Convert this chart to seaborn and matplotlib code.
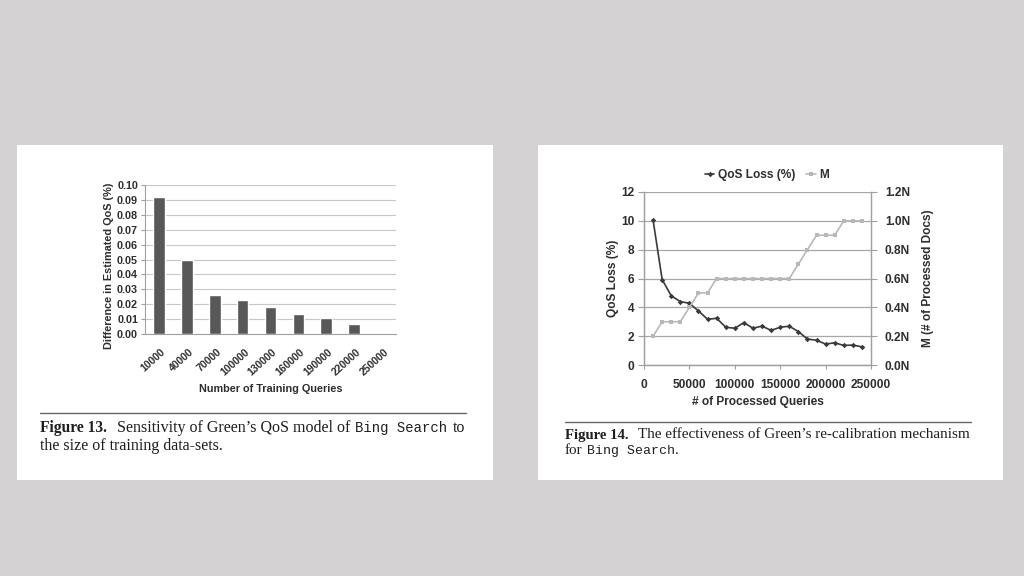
import matplotlib
matplotlib.use("Agg")
import matplotlib.pyplot as plt
import seaborn as sns
import pandas as pd
from matplotlib.patches import Rectangle
from matplotlib.lines import Line2D
from matplotlib.ticker import FuncFormatter, MultipleLocator
from matplotlib.transforms import ScaledTranslation

# ---------------- data ----------------
training_queries = ["10000", "40000", "70000", "100000", "130000",
                    "160000", "190000", "220000", "250000"]
qos_difference = [0.092, 0.050, 0.026, 0.023, 0.018, 0.0135, 0.0105, 0.007, 0.0]

processed_queries = [10000, 20000, 30000, 40000, 50000, 60000, 70000, 80000,
                     90000, 100000, 110000, 120000, 130000, 140000, 150000, 160000,
                     170000, 180000, 190000, 200000, 210000, 220000, 230000, 240000]
qos_loss = [10.05, 5.93, 4.8, 4.4, 4.28, 3.75, 3.17, 3.24,
            2.62, 2.55, 2.94, 2.55, 2.7, 2.4, 2.62, 2.69,
            2.32, 1.8, 1.72, 1.45, 1.54, 1.36, 1.38, 1.26]
m_docs = [0.2, 0.3, 0.3, 0.3, 0.4, 0.5, 0.5, 0.6,
          0.6, 0.6, 0.6, 0.6, 0.6, 0.6, 0.6, 0.6,
          0.7, 0.8, 0.9, 0.9, 0.9, 1.0, 1.0, 1.0]

caption13 = [("Figure 13.", "bold"), ("Sensitivity of Green\u2019s QoS model of", "serif"),
             ("Bing Search", "mono"), ("to", "serif")]
caption13_l2 = [("the size of training data-sets.", "serif")]
caption14 = [("Figure 14.", "bold"), ("The effectiveness of Green\u2019s re-calibration mechanism", "serif")]
caption14_l2 = [("for", "serif"), ("Bing Search", "mono"), (".", "serif_nogap")]

# ---------------- style ----------------
sns.set_theme(style="white")
plt.rcParams['font.family'] = ['Liberation Sans', 'DejaVu Sans']

W, H = 1024, 576
fig = plt.figure(figsize=(W / 100, H / 100), dpi=100, facecolor='#d4d2d3')


def rect(x0, y0, x1, y1):
    return [x0 / W, 1 - y1 / H, (x1 - x0) / W, (y1 - y0) / H]


for (x0, y0, x1, y1) in [(17, 145, 493, 480), (538, 145, 1003, 480)]:
    fig.patches.append(Rectangle((x0 / W, 1 - y1 / H), (x1 - x0) / W, (y1 - y0) / H,
                                 transform=fig.transFigure, facecolor='white',
                                 edgecolor='none', zorder=-5))

TXT = '#2e2e2e'
GRID = '#c8c8c8'
SPINE = '#a0a0a0'
FS1 = 7.8
FS2 = 8.6

# ---------------- Figure 13: bar chart ----------------
ax1 = fig.add_axes(rect(145, 185, 396, 334))
df = pd.DataFrame({"queries": training_queries, "diff": qos_difference})
sns.barplot(data=df, x="queries", y="diff", color='#585858', saturation=1,
            width=0.42, ax=ax1, zorder=3)
ax1.set_ylim(0, 0.10)
ax1.set_xlim(-0.5, len(training_queries) - 0.5)
ax1.yaxis.set_major_locator(MultipleLocator(0.01))
ax1.yaxis.set_major_formatter(FuncFormatter(lambda v, p: f"{v:.2f}"))
ax1.grid(axis='y', color=GRID, lw=0.8, zorder=0)
ax1.set_axisbelow(True)
for s in ['top', 'right']:
    ax1.spines[s].set_visible(False)
for s in ['left', 'bottom']:
    ax1.spines[s].set_color(SPINE)
    ax1.spines[s].set_linewidth(0.8)
ax1.tick_params(axis='y', left=True, length=3, width=0.8, color=SPINE, pad=2,
                labelsize=FS1, labelcolor=TXT)
ax1.tick_params(axis='x', bottom=False, pad=6, labelsize=FS1 - 0.3, labelcolor=TXT)
shift = ScaledTranslation(5 / 100, 0, fig.dpi_scale_trans)
for lab in ax1.get_yticklabels():
    lab.set_fontweight('bold')
for lab in ax1.get_xticklabels():
    lab.set_fontweight('bold')
    lab.set_rotation(42)
    lab.set_ha('right')
    lab.set_va('center')
    lab.set_rotation_mode('anchor')
    lab.set_transform(lab.get_transform() + shift)
ax1.set_xlabel("Number of Training Queries", fontsize=FS1, fontweight='bold', color=TXT, labelpad=5)
ax1.set_ylabel("Difference in Estimated QoS (%)", fontsize=FS1, fontweight='bold', color=TXT)
ax1.yaxis.set_label_coords(-0.124, 0.46)

# ---------------- Figure 14: dual-axis line chart ----------------
ax2 = fig.add_axes(rect(644, 192, 871, 365))
sns.lineplot(x=processed_queries, y=qos_loss, ax=ax2, color='#3a3a3a', lw=1.2,
             marker='D', markersize=2.8, markeredgewidth=0, zorder=4)
ax2.set_xlim(0, 250000)
ax2.set_ylim(0, 12)
ax2.xaxis.set_major_locator(MultipleLocator(50000))
ax2.yaxis.set_major_locator(MultipleLocator(2))
ax2.grid(axis='y', color='#a8a8a8', lw=0.9, zorder=0)
ax2.grid(axis='x', visible=False)
ax3 = ax2.twinx()
sns.lineplot(x=processed_queries, y=m_docs, ax=ax3, color='#b8b8b8', lw=1.2,
             marker='s', markersize=3.5, markeredgewidth=0, zorder=3)
ax3.set_ylim(0, 1.2)
ax3.yaxis.set_major_locator(MultipleLocator(0.2))
ax3.yaxis.set_major_formatter(FuncFormatter(lambda v, p: f"{v:.1f}N"))
ax3.grid(False)
for a in (ax2, ax3):
    a.spines['top'].set_visible(False)
    for s in ['left', 'right', 'bottom']:
        a.spines[s].set_color(SPINE)
        a.spines[s].set_linewidth(0.9)
ax2.tick_params(axis='y', left=True, length=4, width=0.8, color=SPINE, pad=3,
                labelsize=FS2, labelcolor=TXT)
ax2.tick_params(axis='x', bottom=True, length=3, width=0.8, color=SPINE, pad=7,
                labelsize=FS2, labelcolor=TXT)
ax3.tick_params(axis='y', right=True, length=4, width=0.8, color=SPINE, pad=6,
                labelsize=FS2, labelcolor=TXT)
for a in (ax2, ax3):
    for lab in a.get_xticklabels() + a.get_yticklabels():
        lab.set_fontweight('bold')
ax2.set_xlabel("# of Processed Queries", fontsize=FS2, fontweight='bold', color=TXT, labelpad=4)
ax2.set_ylabel("QoS Loss (%)", fontsize=FS2, fontweight='bold', color=TXT, labelpad=1.5)
ax3.set_ylabel("M (# of Processed Docs)", fontsize=FS2, fontweight='bold', color=TXT,
               rotation=90, labelpad=8.5)
for a in (ax2, ax3):
    leg = a.get_legend()
    if leg is not None:
        leg.remove()
handles = [Line2D([], [], color='#3a3a3a', lw=1.2, marker='D', markersize=2.8, markeredgewidth=0),
           Line2D([], [], color='#b8b8b8', lw=1.2, marker='s', markersize=3.5, markeredgewidth=0)]
leg = fig.legend(handles, ["QoS Loss (%)", "M"], loc='center', ncol=2,
                 bbox_to_anchor=(767 / W, 1 - 175 / H), frameon=False,
                 handlelength=0.8, handletextpad=0.3, columnspacing=0.9,
                 prop={'size': FS2, 'weight': 'bold'})
for t in leg.get_texts():
    t.set_color(TXT)

# ---------------- captions ----------------
CAP = '#1e1e1e'


def fonts(kind, scale):
    serif = ['Liberation Serif', 'DejaVu Serif']
    if kind == 'bold':
        return dict(family=serif, weight='bold', fontsize=11.2 * scale)
    if kind == 'mono':
        return dict(family=['Liberation Mono', 'DejaVu Sans Mono'], fontsize=10 * scale)
    return dict(family=serif, fontsize=11.5 * scale)


renderer = fig.canvas.get_renderer()


def caption_line(x, y, pieces, scale=1.0):
    cur = x
    for i, (txt, kind) in enumerate(pieces):
        if i > 0 and kind != 'serif_nogap':
            cur += (5 if pieces[i - 1][1] != 'bold' else 10) * scale
        t = fig.text(cur / W, 1 - y / H, txt, ha='left', va='center', color=CAP,
                     **fonts(kind, scale))
        cur += t.get_window_extent(renderer).width


fig.add_artist(Line2D([40 / W, 466 / W], [1 - 413 / H] * 2, color='#666666', lw=1))
fig.add_artist(Line2D([565 / W, 971 / W], [1 - 422 / H] * 2, color='#666666', lw=1))
caption_line(40, 428, caption13)
caption_line(40, 446, caption13_l2)
caption_line(565, 435, caption14, 0.95)
caption_line(565, 451, caption14_l2, 0.95)

fig.savefig("out.png", dpi=100, facecolor=fig.get_facecolor())
